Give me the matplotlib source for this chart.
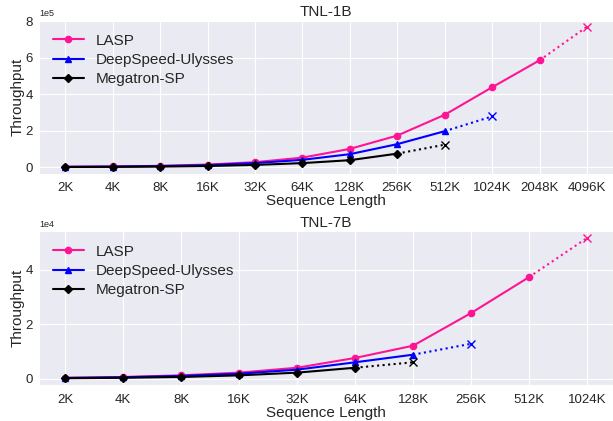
import matplotlib
matplotlib.use("Agg")
import matplotlib.pyplot as plt
import seaborn as sns

sns.set_style("darkgrid")
plt.rcParams['font.family'] = ['Liberation Sans', 'DejaVu Sans']

# TNL-1B
labels_1b = ["2K", "4K", "8K", "16K", "32K", "64K", "128K", "256K", "512K", "1024K", "2048K", "4096K"]
lasp_1b = [0.017e5, 0.035e5, 0.07e5, 0.14e5, 0.27e5, 0.52e5, 1.0e5, 1.73e5, 2.87e5, 4.38e5, 5.86e5]
lasp_1b_oom = 7.7e5
ulysses_1b = [0.014e5, 0.028e5, 0.055e5, 0.11e5, 0.22e5, 0.40e5, 0.71e5, 1.26e5, 1.97e5]
ulysses_1b_oom = 2.78e5
megatron_1b = [0.008e5, 0.015e5, 0.03e5, 0.06e5, 0.12e5, 0.22e5, 0.38e5, 0.74e5]
megatron_1b_oom = 1.23e5

# TNL-7B
labels_7b = ["2K", "4K", "8K", "16K", "32K", "64K", "128K", "256K", "512K", "1024K"]
lasp_7b = [0.03e4, 0.06e4, 0.12e4, 0.22e4, 0.40e4, 0.76e4, 1.21e4, 2.41e4, 3.73e4]
lasp_7b_oom = 5.17e4
ulysses_7b = [0.025e4, 0.05e4, 0.10e4, 0.18e4, 0.33e4, 0.60e4, 0.88e4]
ulysses_7b_oom = 1.28e4
megatron_7b = [0.015e4, 0.03e4, 0.06e4, 0.12e4, 0.22e4, 0.40e4]
megatron_7b_oom = 0.60e4

series_style = [
    ("LASP", "#ff1493", "o", 4.5),
    ("DeepSpeed-Ulysses", "blue", "^", 4.5),
    ("Megatron-SP", "black", "D", 4),
]


def draw(ax, title, labels, data):
    for (name, color, marker, ms), (vals, oom) in zip(series_style, data):
        x = list(range(len(vals)))
        ax.plot(x, vals, color=color, marker=marker, markersize=ms, linewidth=1.5, label=name)
        n = len(vals)
        # dotted segment to the out-of-memory point
        ax.plot([n - 1, n], [vals[-1], oom], color=color, linestyle=":", linewidth=1.5)
        ax.plot([n], [oom], color=color, marker="x", markersize=6, markeredgewidth=1.0,
                linestyle="none")
    ax.set_xticks(range(len(labels)))
    ax.set_xticklabels(labels)
    ax.tick_params(axis="x", labelsize=9.5, pad=2.5)
    ax.tick_params(axis="y", labelsize=9.5, pad=1)
    ax.set_title(title, fontsize=11, pad=3)
    ax.set_xlabel("Sequence Length", fontsize=11, labelpad=0)
    ax.set_ylabel("Throughput", fontsize=11, labelpad=1)
    ax.ticklabel_format(axis="y", style="sci", scilimits=(0, 0))
    ax.yaxis.get_offset_text().set_fontsize(6.5)
    ax.legend(loc="upper left", fontsize=11, frameon=False, labelspacing=0.35)


fig, (ax1, ax2) = plt.subplots(2, 1, figsize=(6.13, 4.21), dpi=100)
draw(ax1, "TNL-1B", labels_1b,
     [(lasp_1b, lasp_1b_oom), (ulysses_1b, ulysses_1b_oom), (megatron_1b, megatron_1b_oom)])
draw(ax2, "TNL-7B", labels_7b,
     [(lasp_7b, lasp_7b_oom), (ulysses_7b, ulysses_7b_oom), (megatron_7b, megatron_7b_oom)])

fig.subplots_adjust(left=0.064, right=1.0, top=0.953, bottom=0.085, hspace=0.37)
fig.savefig("out.png", dpi=100)
